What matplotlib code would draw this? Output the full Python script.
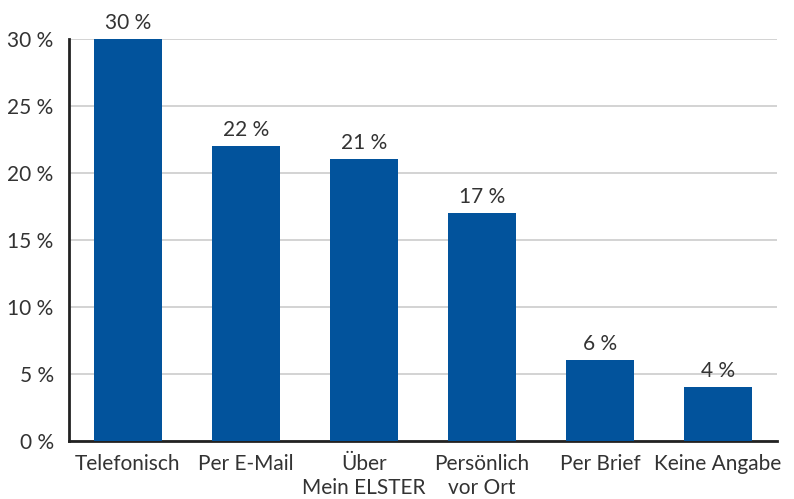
import matplotlib
matplotlib.use("Agg")
import matplotlib.pyplot as plt

categories = ["Telefonisch", "Per E-Mail", "Über\nMein ELSTER", "Persönlich\nvor Ort", "Per Brief", "Keine Angabe"]
values = [30, 22, 21, 17, 6, 4]
yticks = [0, 5, 10, 15, 20, 25, 30]

plt.rcParams['font.family'] = ['Lato', 'DejaVu Sans']
text_color = '#333333'
bar_color = '#02539c'

fig = plt.figure(figsize=(7.94, 4.99), dpi=100)
ax = fig.add_axes([0.0869, 0.1172, 0.8917, 0.8046])

x = range(len(categories))
ax.bar(x, values, width=0.57, color=bar_color, zorder=3)

for xi, v in zip(x, values):
    ax.text(xi, v + 0.45, f"{v} %", ha='center', va='bottom', fontsize=15, color=text_color)

ax.set_xlim(-0.5, len(categories) - 0.5)
ax.set_ylim(0, 30)
ax.set_yticks(yticks)
ax.set_yticklabels([f"{t} %" for t in yticks], fontsize=15, color=text_color)
ax.set_xticks(list(x))
ax.set_xticklabels(categories, fontsize=15, color=text_color, linespacing=1.2)
ax.tick_params(axis='both', length=0)
ax.tick_params(axis='x', pad=10)
ax.tick_params(axis='y', pad=11)

ax.yaxis.grid(True, color='#cccccc', linewidth=1.2, zorder=0)
ax.set_axisbelow(True)
for s in ['top', 'right']:
    ax.spines[s].set_visible(False)
for s in ['left', 'bottom']:
    ax.spines[s].set_color('#222222')
    ax.spines[s].set_linewidth(2)

fig.savefig("out.png", dpi=100)
